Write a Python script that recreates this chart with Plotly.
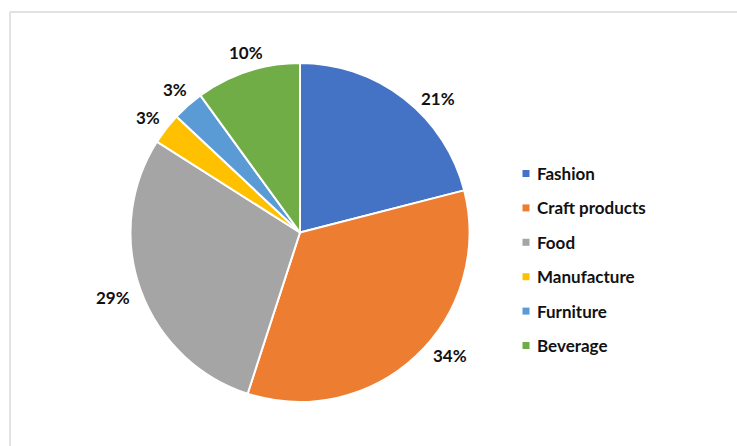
import math
import plotly.graph_objects as go

# Share of businesses by sector (percent)
categories = ["Fashion", "Craft products", "Food", "Manufacture", "Furniture", "Beverage"]
shares = [21, 34, 29, 3, 3, 10]
colors = ["#4472C4", "#ED7D31", "#A5A5A5", "#FFC000", "#5B9BD5", "#70AD47"]

W, H = 737, 446
CX, CY, R = 300, 232.5, 169.5           # pie centre / radius in pixels
LABEL_DIST = 192                         # distance of value labels from centre
# small pixel nudges so the value labels sit where they read best
label_nudge = [(20, 18), (19, -17), (-6, 0), (0, 3), (2, 1), (5, 3)]
TEXT_FONT = dict(family="Lato", size=17, color="#111111")

def px(x):
    return x / W

def py(y):
    return 1 - y / H

fig = go.Figure(
    go.Pie(
        labels=categories,
        values=shares,
        sort=False,
        direction="clockwise",
        rotation=0,
        textinfo="none",
        hoverinfo="label+percent",
        marker=dict(colors=colors, line=dict(color="white", width=2)),
        domain=dict(x=[px(CX - R), px(CX + R)], y=[py(CY + R), py(CY - R)]),
        showlegend=False,
    )
)

annotations = []
shapes = []

# value labels outside the slices, placed at each slice's mid-angle
total = sum(shares)
cum = 0
for val, (dx, dy) in zip(shares, label_nudge):
    mid = (cum + val / 2) / total * 2 * math.pi
    cum += val
    lx = CX + LABEL_DIST * math.sin(mid) + dx
    ly = CY - LABEL_DIST * math.cos(mid) + dy
    annotations.append(dict(
        x=px(lx), y=py(ly), xref="paper", yref="paper",
        text=f"<b>{round(val / total * 100)}%</b>", showarrow=False,
        xanchor="center", yanchor="middle",
        font=TEXT_FONT,
    ))

# legend: coloured squares with bold names
LEG_X, LEG_Y0, LEG_STEP, SQ = 526, 173.5, 34.4, 7
for i, (name, col) in enumerate(zip(categories, colors)):
    yc = LEG_Y0 + i * LEG_STEP
    shapes.append(dict(
        type="rect", xref="paper", yref="paper",
        x0=px(LEG_X - SQ / 2), x1=px(LEG_X + SQ / 2),
        y0=py(yc + SQ / 2), y1=py(yc - SQ / 2),
        fillcolor=col, line=dict(width=0),
    ))
    annotations.append(dict(
        x=px(535), y=py(yc), xref="paper", yref="paper",
        text=f"<b>{name}</b>", showarrow=False,
        xanchor="left", yanchor="middle",
        font=TEXT_FONT,
    ))

# light chart-area frame (top and left edges)
shapes.append(dict(type="line", xref="paper", yref="paper",
                   x0=px(10), x1=px(W + 5), y0=py(12), y1=py(12),
                   line=dict(color="#D9D9D9", width=1.5)))
shapes.append(dict(type="line", xref="paper", yref="paper",
                   x0=px(10), x1=px(10), y0=py(12), y1=py(H + 5),
                   line=dict(color="#D9D9D9", width=1.5)))

fig.update_layout(
    width=W, height=H,
    margin=dict(l=0, r=0, t=0, b=0),
    paper_bgcolor="white", plot_bgcolor="white",
    annotations=annotations, shapes=shapes,
    showlegend=False,
)

fig.write_html("out.html")
